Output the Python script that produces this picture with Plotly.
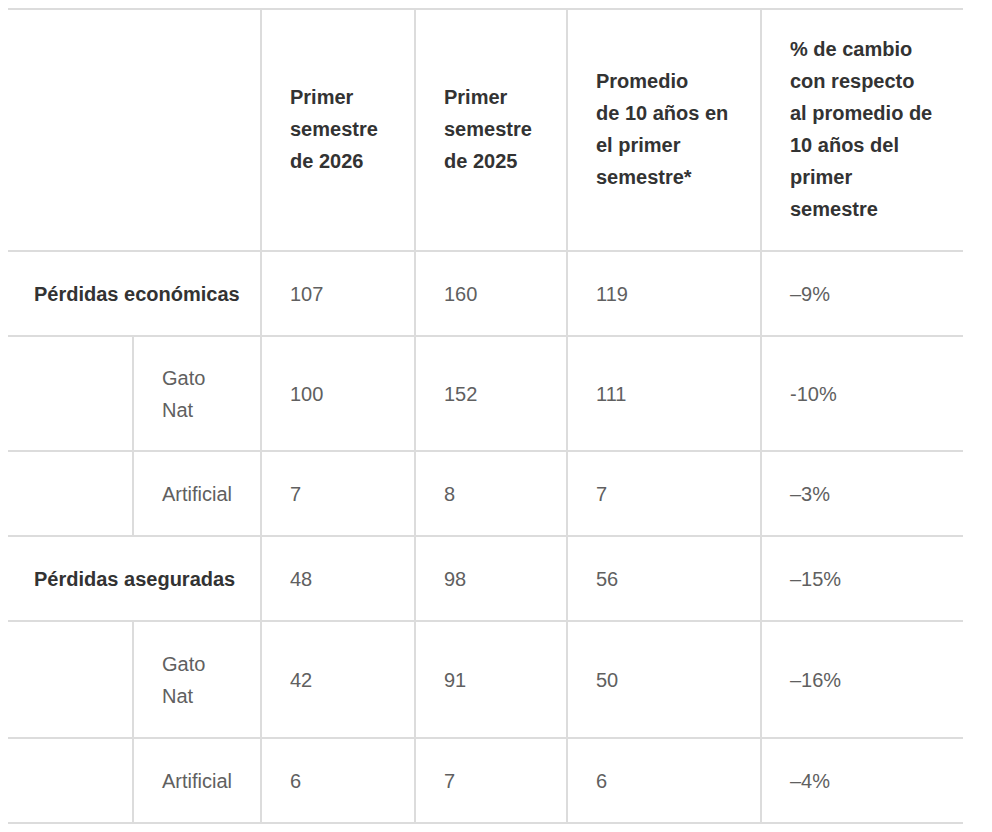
import plotly.graph_objects as go

# table content
headers = ['Primer<br>semestre<br>de 2026',
           'Primer<br>semestre<br>de 2025',
           'Promedio<br>de 10 años en<br>el primer<br>semestre*',
           '% de cambio<br>con respecto<br>al promedio de<br>10 años del<br>primer<br>semestre']
group_labels = ['Pérdidas económicas', '', '', 'Pérdidas aseguradas', '', '']
sub_labels = ['', 'Gato<br>Nat', 'Artificial', '', 'Gato<br>Nat', 'Artificial']
h1_2026 = ['107', '100', '7', '48', '42', '6']
h1_2025 = ['160', '152', '8', '98', '91', '7']
avg_10y = ['119', '111', '7', '56', '50', '6']
pct_change = ['–9%', '-10%', '–3%', '–15%', '–16%', '–4%']

# grid geometry (page pixels)
col_x = [7, 133, 261, 415, 567, 761, 963]
row_y = [7, 251, 336, 451, 536, 621, 738, 823]
pad = 27
line_h = 32
line_color = '#dcdcdc'
dark = '#333333'
grey = '#606060'
font_family = 'Liberation Sans, Arial, sans-serif'
off = 8  # page body margin around the plot div

fig = go.Figure()
fig.add_trace(go.Scatter(x=[off, 992 + off], y=[off, 832 + off], mode='markers',
                         marker=dict(opacity=0), hoverinfo='skip', showlegend=False))

shapes = []
for y in row_y:
    y = max(y, off + 1)  # keep top rule inside the plot area
    shapes.append(dict(type='line', x0=col_x[0], x1=col_x[-1], y0=y, y1=y,
                       line=dict(color=line_color, width=2)))
for x in col_x[2:-1]:
    shapes.append(dict(type='line', x0=x, x1=x, y0=row_y[0], y1=row_y[-1],
                       line=dict(color=line_color, width=2)))
# sub-label divider only in sub rows
for i, lab in enumerate(sub_labels):
    if lab:
        shapes.append(dict(type='line', x0=col_x[1], x1=col_x[1], y0=row_y[i + 1], y1=row_y[i + 2],
                           line=dict(color=line_color, width=2)))

annotations = []


def add_text(text, x, y0, y1, bold=False, color=grey):
    lines = text.split('<br>')
    mid = (y0 + y1) / 2
    n = len(lines)
    for k, ln in enumerate(lines):
        annotations.append(dict(
            x=x, y=mid + (k - (n - 1) / 2) * line_h, xref='x', yref='y',
            text='<b>' + ln + '</b>' if bold else ln, showarrow=False,
            xanchor='left', yanchor='middle',
            font=dict(family=font_family, size=20, color=color)))


for j, h in enumerate(headers):
    add_text(h, col_x[j + 2] + pad, row_y[0], row_y[1], bold=True, color=dark)

body_cols = [h1_2026, h1_2025, avg_10y, pct_change]
for i in range(len(group_labels)):
    y0, y1 = row_y[i + 1], row_y[i + 2]
    if group_labels[i]:
        add_text(group_labels[i], col_x[0] + 25, y0, y1, bold=True, color=dark)
    if sub_labels[i]:
        add_text(sub_labels[i], col_x[1] + pad, y0, y1, color=grey)
    for j, col in enumerate(body_cols):
        add_text(col[i], col_x[j + 2] + pad, y0, y1, color=grey)

fig.update_layout(
    width=992, height=832,
    margin=dict(l=0, r=0, t=0, b=0),
    paper_bgcolor='white', plot_bgcolor='white',
    xaxis=dict(range=[off, 992 + off], visible=False, fixedrange=True),
    yaxis=dict(range=[832 + off, off], visible=False, fixedrange=True),
    shapes=shapes, annotations=annotations,
)

fig.write_html("out.html")
